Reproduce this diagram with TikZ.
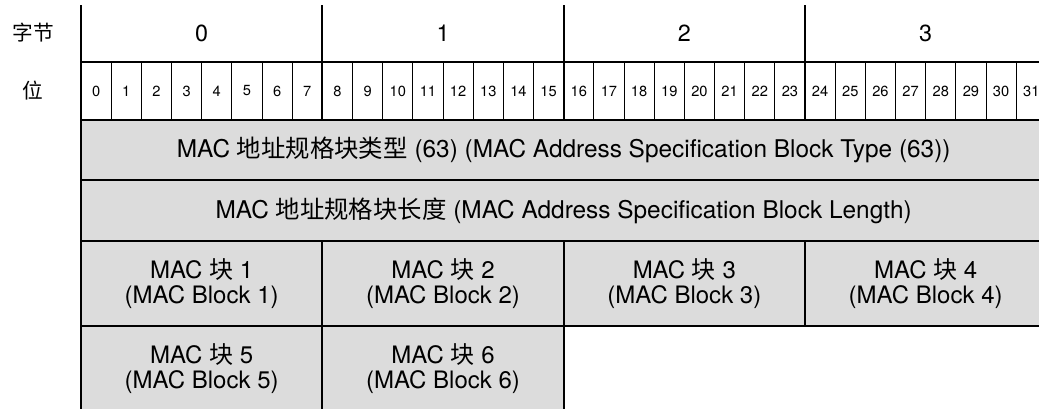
\documentclass[tikz,border=0pt]{standalone}
\usepackage{fontspec}
\setmainfont{TeX Gyre Heros}
\newfontfamily\cjk{Noto Sans CJK SC}
\newcommand{\zh}[1]{{\cjk #1}}
\usetikzlibrary{positioning}
\definecolor{cellgray}{RGB}{220,220,220}

\begin{document}
\begin{tikzpicture}[
  x=0.75pt, y=-0.75pt,
  node distance=0pt,
  every node/.style={outer sep=0pt,inner sep=0pt},
  sidelabel/.style={font=\fontsize{15.5}{17}\selectfont},
  bytecell/.style={minimum width=181pt,minimum height=42.75pt,font=\fontsize{17.5}{19}\selectfont},
  bitcell/.style={draw,line width=0.75pt,minimum width=22.625pt,minimum height=43.5pt,font=\fontsize{11}{12}\selectfont},
  wide/.style={draw,line width=1.5pt,fill=cellgray,minimum width=724pt,minimum height=45.2pt,font=\fontsize{18.3}{20}\selectfont},
  blkcell/.style={draw,line width=1.5pt,fill=cellgray,align=center,minimum width=181pt,minimum height=64pt,font=\fontsize{18}{18.75}\selectfont},
  rule/.style={line width=1.5pt}
]
  \clip (0,0) rectangle (1039,408);

  % header: bytes and bits
  \node[sidelabel] (bytelbl) at (33,33) {\zh{字节}};
  \node[sidelabel] (bitlbl) at (33,91) {\zh{位}};

  \node[bytecell] (byte0) at (201.67,33.5) {0};
  \foreach \i [remember=\i as \j (initially 0)] in {1,2,3}
    \node[bytecell,right=of byte\j] (byte\i) {\i};

  \node[bitcell,below right=0pt and 0pt of byte0.south west] (bit0) {0};
  \foreach \i [remember=\i as \j (initially 0)] in {1,...,31}
    \node[bitcell,right=of bit\j] (bit\i) {\i};

  \foreach \i/\b in {0/0,1/8,2/16,3/24}
    \draw[rule] (byte\i.north west) -- (bit\b.south west);
  \draw[rule] (bit0.north west) -- (bit31.north east);

  % fields
  \node[wide,below right=0pt and 0pt of bit0.south west] (blktype)
    {MAC \zh{地址规格块类型} (63) (MAC Address Specification Block Type (63))};
  \node[wide,below=of blktype] (blklen)
    {MAC \zh{地址规格块长度} (MAC Address Specification Block Length)};

  \node[blkcell,below right=0pt and 0pt of blklen.south west] (mac1)
    {MAC \zh{块} 1\\(MAC Block 1)};
  \node[blkcell,right=of mac1] (mac2) {MAC \zh{块} 2\\(MAC Block 2)};
  \node[blkcell,right=of mac2] (mac3) {MAC \zh{块} 3\\(MAC Block 3)};
  \node[blkcell,right=of mac3] (mac4) {MAC \zh{块} 4\\(MAC Block 4)};
  \node[blkcell,below=of mac1] (mac5) {MAC \zh{块} 5\\(MAC Block 5)};
  \node[blkcell,right=of mac5] (mac6) {MAC \zh{块} 6\\(MAC Block 6)};
\end{tikzpicture}
\end{document}
